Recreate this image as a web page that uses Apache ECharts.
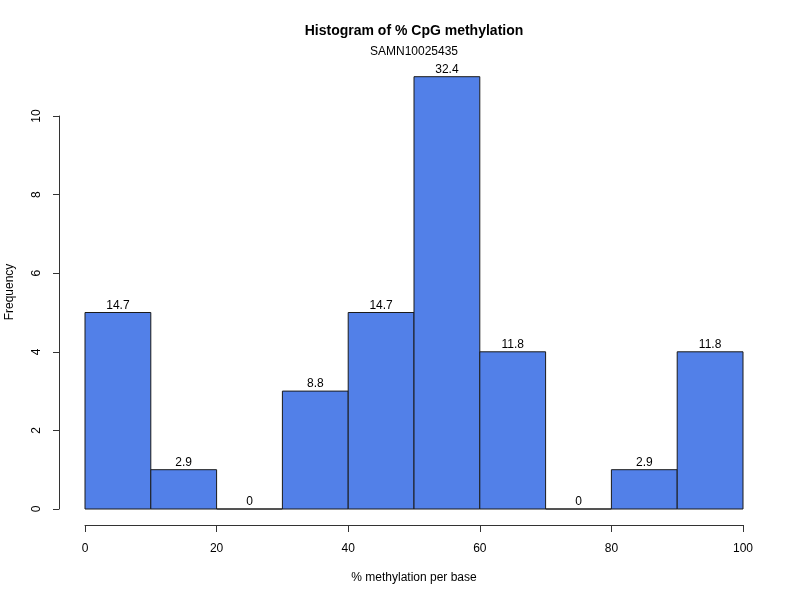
<!DOCTYPE html>
<html><head><meta charset="utf-8">
<script src="https://cdn.jsdelivr.net/npm/echarts@6/dist/echarts.min.js"></script>
<style>html,body{margin:0;padding:0;background:#fff}#c{width:800px;height:600px}</style>
</head><body><div id="c"></div>
<script>
const binStarts = [0, 10, 20, 30, 40, 50, 60, 70, 80, 90];
const binWidth = 10;
const frequencies = [5, 1, 0, 3, 5, 11, 4, 0, 1, 4];
const percentLabels = ['14.7', '2.9', '0', '8.8', '14.7', '32.4', '11.8', '0', '2.9', '11.8'];
const xTicks = [0, 20, 40, 60, 80, 100];
const yTicks = [0, 2, 4, 6, 8, 10];

const FONT = 'Liberation Sans, Arial, sans-serif';
const chart = echarts.init(document.getElementById('c'), null, {renderer: 'canvas'});
const data = binStarts.map((s, i) => [s, s + binWidth, frequencies[i], percentLabels[i]]);

chart.setOption({
  animation: false,
  backgroundColor: '#fff',
  graphic: [
    {type: 'text', x: 414, y: 31,
     style: {text: 'Histogram of % CpG methylation', font: 'bold 14px ' + FONT, fill: '#000', align: 'center', verticalAlign: 'middle'}},
    {type: 'text', x: 414, y: 52,
     style: {text: 'SAMN10025435', font: '12px ' + FONT, fill: '#000', align: 'center', verticalAlign: 'middle'}},
    {type: 'text', x: 414, y: 578,
     style: {text: '% methylation per base', font: '12px ' + FONT, fill: '#000', align: 'center', verticalAlign: 'middle'}},
    {type: 'text', x: 10, y: 292, rotation: Math.PI / 2,
     style: {text: 'Frequency', font: '12px ' + FONT, fill: '#000', align: 'center', verticalAlign: 'middle'}}
  ],
  grid: {left: 85, right: 57, top: 116, bottom: 91},
  xAxis: {
    type: 'value', min: 0, max: 100, interval: 20, offset: 16,
    axisLine: {show: true, onZero: false, lineStyle: {color: '#333', width: 1}},
    axisTick: {show: true, length: 7, inside: false, lineStyle: {color: '#333'}},
    axisLabel: {fontFamily: FONT, fontSize: 12, color: '#000', margin: 18,
      formatter: v => xTicks.includes(v) ? String(v) : ''},
    splitLine: {show: false}
  },
  yAxis: {
    type: 'value', min: 0, max: 10, interval: 2, offset: 26,
    axisLine: {show: true, onZero: false, lineStyle: {color: '#333', width: 1}},
    axisTick: {show: true, length: 6, lineStyle: {color: '#333'}},
    axisLabel: {fontFamily: FONT, fontSize: 12, color: '#000', rotate: 90, margin: 16,
      formatter: v => yTicks.includes(v) ? String(v) : ''},
    splitLine: {show: false}
  },
  series: [{
    type: 'custom',
    clip: false,
    data: data,
    renderItem: function (params, api) {
      const x0 = api.value(0), x1 = api.value(1), f = api.value(2);
      const p0 = api.coord([x0, 0]);
      const p1 = api.coord([x1, f]);
      const lbl = percentLabels[params.dataIndex];
      return {
        type: 'group',
        children: [
          {type: 'rect',
           shape: {x: p0[0], y: p1[1], width: p1[0] - p0[0], height: p0[1] - p1[1]},
           style: {fill: '#5280E8', stroke: '#1a1a1a', lineWidth: 1}},
          {type: 'text',
           style: {text: lbl, x: (p0[0] + p1[0]) / 2, y: p1[1] - 1,
                   align: 'center', verticalAlign: 'bottom', font: '12px ' + FONT, fill: '#000'}}
        ]
      };
    }
  }]
});
</script></body></html>
